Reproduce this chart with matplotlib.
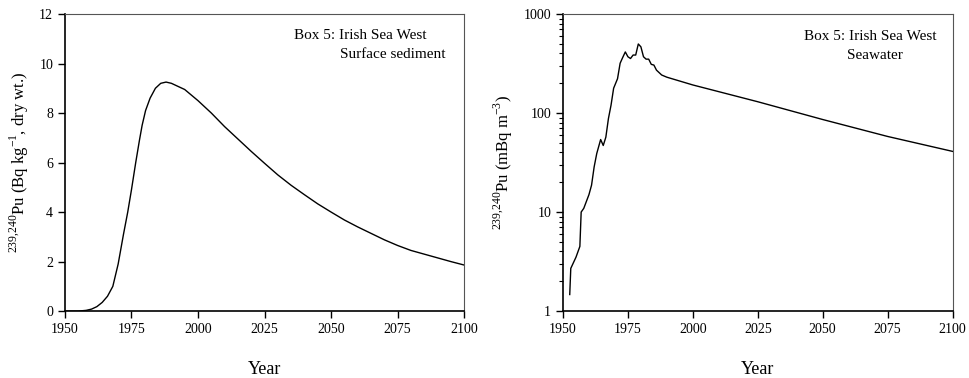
import numpy as np
import matplotlib.pyplot as plt
from matplotlib.ticker import LogLocator, NullFormatter

plt.rcParams['font.family'] = ['Liberation Serif', 'DejaVu Serif']
plt.rcParams['mathtext.fontset'] = 'custom'
plt.rcParams['mathtext.rm'] = 'Liberation Serif'

# sediment, Bq/kg dry wt
sed_year = [1950, 1955, 1958, 1960, 1962, 1964, 1966, 1968, 1970, 1972, 1973.6,
            1975, 1976.6, 1978, 1979, 1980.3, 1982, 1984, 1986, 1988, 1990, 1995,
            2000, 2005, 2010, 2015, 2020, 2025, 2030, 2035, 2040, 2045, 2050,
            2055, 2060, 2065, 2070, 2075, 2080, 2085, 2090, 2095, 2100]
sed_val = [0, 0, 0.03, 0.08, 0.18, 0.35, 0.6, 1.0, 1.9, 3.1, 4.0,
           4.9, 6.0, 6.9, 7.5, 8.1, 8.6, 9.0, 9.2, 9.25, 9.2, 8.95,
           8.5, 8.0, 7.45, 6.95, 6.45, 5.97, 5.5, 5.08, 4.7, 4.33, 4.0,
           3.68, 3.4, 3.14, 2.88, 2.65, 2.45, 2.3, 2.15, 2.0, 1.86]

# seawater, mBq/m3
sw_year = [1952.6, 1953, 1955, 1956.5, 1957, 1958, 1960, 1961, 1962, 1963,
           1964.5, 1965.5, 1966.5, 1967.5, 1968.5, 1969.5, 1971, 1972, 1973,
           1974, 1975, 1976, 1977, 1978, 1979, 1980, 1981, 1982, 1983, 1984,
           1985, 1986, 1988, 1990, 2000, 2025, 2050, 2075, 2100]
sw_val = [1.47, 2.7, 3.5, 4.5, 10, 10.9, 15, 18.7, 28.6, 39,
          54, 47, 57, 88, 120, 178, 222, 318, 364,
          414, 370, 355, 385, 385, 498, 466, 370, 350, 350, 310,
          305, 271, 242, 230, 192, 130, 86, 58, 41]

fig = plt.figure(figsize=(9.69, 3.78), dpi=100)
ax1 = fig.add_axes([0.067, 0.177, 0.412, 0.786])
ax2 = fig.add_axes([0.581, 0.177, 0.402, 0.786])

ax1.plot(sed_year, sed_val, color='black', lw=1.0)
ax1.set_xlim(1950, 2100)
ax1.set_ylim(0, 12)
ax1.set_xticks([1950, 1975, 2000, 2025, 2050, 2075, 2100])
ax1.set_yticks([0, 2, 4, 6, 8, 10, 12])
ax1.set_xlabel('Year', fontsize=13, labelpad=18)
ax1.set_ylabel(r'$^{239{,}240}$Pu (Bq kg$^{-1}$, dry wt.)', fontsize=12, labelpad=6)
ax1.text(0.739, 0.929, 'Box 5: Irish Sea West', transform=ax1.transAxes,
         ha='center', va='center', fontsize=11)
ax1.text(0.822, 0.865, 'Surface sediment', transform=ax1.transAxes,
         ha='center', va='center', fontsize=11)

ax2.plot(sw_year, sw_val, color='black', lw=1.0)
ax2.set_yscale('log')
ax2.set_xlim(1950, 2100)
ax2.set_ylim(1, 1000)
ax2.set_xticks([1950, 1975, 2000, 2025, 2050, 2075, 2100])
ax2.set_yticks([1, 10, 100, 1000])
ax2.set_yticklabels(['1', '10', '100', '1000'])
ax2.yaxis.set_minor_locator(LogLocator(base=10, subs=np.arange(2, 10)))
ax2.yaxis.set_minor_formatter(NullFormatter())
ax2.set_xlabel('Year', fontsize=13, labelpad=18)
ax2.set_ylabel(r'$^{239{,}240}$Pu (mBq m$^{-3}$)', fontsize=12, labelpad=6)
ax2.text(0.79, 0.925, 'Box 5: Irish Sea West', transform=ax2.transAxes,
         ha='center', va='center', fontsize=11)
ax2.text(0.8, 0.86, 'Seawater', transform=ax2.transAxes,
         ha='center', va='center', fontsize=11)

for ax in (ax1, ax2):
    ax.tick_params(axis='both', which='major', direction='out', length=5,
                   width=1, labelsize=10, colors='black')
    ax.tick_params(axis='y', which='minor', direction='out', length=3, width=0.8)
    for s in ('left', 'bottom'):
        ax.spines[s].set_linewidth(1.2)
    for s in ('top', 'right'):
        ax.spines[s].set_linewidth(0.8)
        ax.spines[s].set_color('#555555')

fig.savefig('out.png', dpi=100)
